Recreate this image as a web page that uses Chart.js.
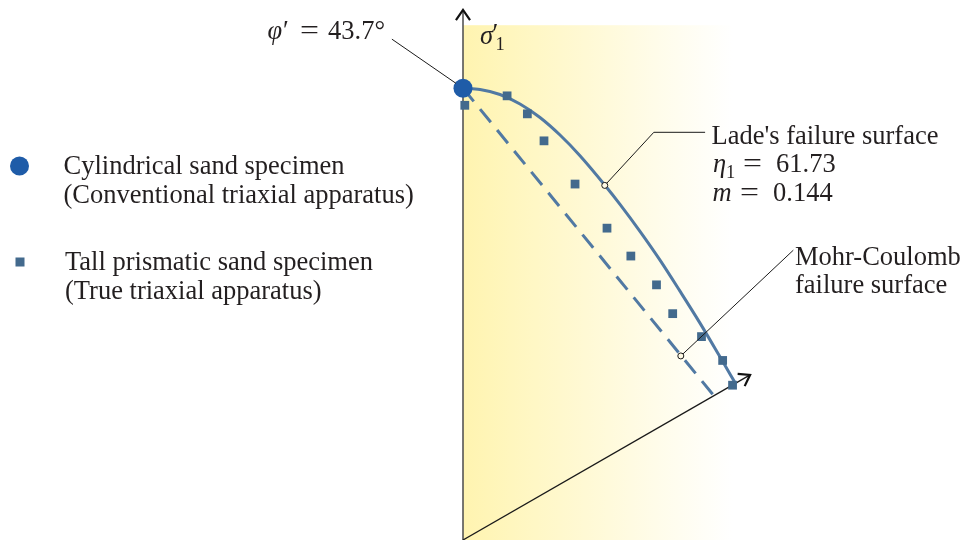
<!DOCTYPE html>
<html>
<head>
<meta charset="utf-8">
<script src="https://cdn.jsdelivr.net/npm/chart.js@4.4.1/dist/chart.umd.min.js"></script>
<style>
  html, body { margin: 0; padding: 0; background: #ffffff; }
  canvas { display: block; }
</style>
</head>
<body>
<canvas id="chart" width="965" height="540"></canvas>
<script>
// Octahedral-plane view: σ'1 axis vertical, origin where the two axes meet.
// Cylindrical specimen (conventional triaxial apparatus)
const cylindricalPoints = [{ x: 0, y: 10.04 }];

// Tall prismatic specimens (true triaxial apparatus)
const prismaticPoints = [
  { x: 0.04, y: 9.66 }, { x: 0.98, y: 9.87 }, { x: 1.43, y: 9.47 },
  { x: 1.80, y: 8.87 }, { x: 2.49, y: 7.91 }, { x: 3.20, y: 6.93 },
  { x: 3.73, y: 6.31 }, { x: 4.30, y: 5.67 }, { x: 4.66, y: 5.03 },
  { x: 5.30, y: 4.52 }, { x: 5.77, y: 3.99 }, { x: 5.99, y: 3.44 }
];

// Lade's failure surface trace (η1 = 61.73, m = 0.144)
const ladeSurface = [
  { x: 0.000, y: 10.04 }, { x: 0.378, y: 10.01 }, { x: 0.822, y: 9.90 },
  { x: 1.267, y: 9.69 }, { x: 1.711, y: 9.39 }, { x: 2.156, y: 9.00 },
  { x: 2.600, y: 8.54 }, { x: 3.149, y: 7.89 }, { x: 3.489, y: 7.46 },
  { x: 3.933, y: 6.86 }, { x: 4.378, y: 6.22 }, { x: 4.822, y: 5.53 },
  { x: 5.267, y: 4.82 }, { x: 5.711, y: 4.07 }, { x: 6.067, y: 3.46 }
];

// Mohr-Coulomb failure surface trace (φ' = 43.7°)
const mohrCoulombSurface = [{ x: 0, y: 10.04 }, { x: 5.58, y: 3.20 }];

// Points picked out by the annotations
const ladeCallout = [{ x: 3.15, y: 7.88 }];
const mohrCallout = [{ x: 4.84, y: 4.09 }];

// Axis ends (σ'1 vertical, σ'3 direction at 30°)
const sigma1AxisEnd = { x: 0, y: 11.78 };
const sigma3AxisEnd = { x: 6.38, y: 3.67 };
const axisOrigin = { x: 0, y: 0 };

// Shaded sector and leader-line bends
const shadeExtent = { x: 6.0, y: 11.44 };
const phiLeaderStart = { x: -1.58, y: 11.13 };
const ladeLeaderBend = [{ x: 4.24, y: 9.06 }, { x: 5.38, y: 9.06 }];
const mohrLeaderEnd = { x: 7.34, y: 6.44 };

const BIG_R = 9.5;
const SMALL_R = 3;
const SERIF = '"Liberation Serif", "Times New Roman", serif';
const TEXT = '#231f20';
const CURVE = '#5179a3';
const SQUARE = '#436a8d';
const CIRCLE = '#1f5ca8';

function px(chart, p) {
  return { x: chart.scales.x.getPixelForValue(p.x), y: chart.scales.y.getPixelForValue(p.y) };
}

function font(size, italic) {
  return (italic ? 'italic ' : '') + size + 'px ' + SERIF;
}

function drawText(ctx, str, x, y, size, italic) {
  ctx.font = font(size || 26.5, italic);
  ctx.fillText(str, x, y);
}

function drawEquals(ctx, x, y) {
  ctx.save();
  ctx.translate(x, y);
  ctx.scale(1.27, 1);
  ctx.font = font(26.5, false);
  ctx.fillText('=', 0, 0);
  ctx.restore();
}

function arrowHead(ctx, tip, from) {
  const ang = Math.atan2(from.y - tip.y, from.x - tip.x);
  const len = 12.5, spread = 0.6;
  ctx.beginPath();
  ctx.moveTo(tip.x + len * Math.cos(ang + spread), tip.y + len * Math.sin(ang + spread));
  ctx.lineTo(tip.x, tip.y);
  ctx.lineTo(tip.x + len * Math.cos(ang - spread), tip.y + len * Math.sin(ang - spread));
  ctx.stroke();
}

function shortened(from, to, r) {
  const dx = to.x - from.x, dy = to.y - from.y;
  const d = Math.hypot(dx, dy);
  return { x: to.x - dx / d * r, y: to.y - dy / d * r };
}

const diagramPlugin = {
  id: 'diagram',
  beforeDatasetsDraw(chart) {
    const ctx = chart.ctx;
    const o = px(chart, axisOrigin);
    const e = px(chart, shadeExtent);
    // shaded band behind the traces
    const g = ctx.createLinearGradient(o.x, 0, e.x, 0);
    g.addColorStop(0, '#fff4b0');
    g.addColorStop(0.45, '#fff9d4');
    g.addColorStop(0.8, '#fffdf0');
    g.addColorStop(1, '#ffffff');
    ctx.save();
    ctx.fillStyle = g;
    ctx.fillRect(o.x, e.y, e.x - o.x, o.y - e.y);

    // σ'1 axis
    const a1 = px(chart, sigma1AxisEnd);
    ctx.strokeStyle = '#555555';
    ctx.lineWidth = 1.6;
    ctx.beginPath();
    ctx.moveTo(o.x, o.y + 2);
    ctx.lineTo(a1.x, a1.y);
    ctx.stroke();
    // σ'3 direction
    const a3 = px(chart, sigma3AxisEnd);
    ctx.strokeStyle = '#1a1a1a';
    ctx.lineWidth = 1.3;
    ctx.beginPath();
    ctx.moveTo(o.x, o.y);
    ctx.lineTo(a3.x, a3.y);
    ctx.stroke();
    // arrow heads
    ctx.strokeStyle = '#111111';
    ctx.lineWidth = 2.2;
    ctx.lineJoin = 'miter';
    arrowHead(ctx, a1, o);
    arrowHead(ctx, a3, o);
    ctx.restore();
  },
  afterDatasetsDraw(chart) {
    const ctx = chart.ctx;
    ctx.save();
    ctx.strokeStyle = '#1a1a1a';
    ctx.lineWidth = 1;

    // φ' leader to the cylindrical specimen
    const ps = px(chart, phiLeaderStart);
    const pc = px(chart, cylindricalPoints[0]);
    const pe = shortened(ps, pc, BIG_R - 1);
    ctx.beginPath();
    ctx.moveTo(ps.x, ps.y);
    ctx.lineTo(pe.x, pe.y);
    ctx.stroke();

    // Lade leader
    const lb0 = px(chart, ladeLeaderBend[0]);
    const lb1 = px(chart, ladeLeaderBend[1]);
    const lp = px(chart, ladeCallout[0]);
    const lpe = shortened(lb0, lp, SMALL_R);
    ctx.beginPath();
    ctx.moveTo(lpe.x, lpe.y);
    ctx.lineTo(lb0.x, lb0.y);
    ctx.lineTo(lb1.x, lb1.y);
    ctx.stroke();

    // Mohr-Coulomb leader
    const me = px(chart, mohrLeaderEnd);
    const mp = px(chart, mohrCallout[0]);
    const mpe = shortened(me, mp, SMALL_R);
    ctx.beginPath();
    ctx.moveTo(mpe.x, mpe.y);
    ctx.lineTo(me.x, me.y);
    ctx.stroke();
    ctx.restore();
  },
  afterDraw(chart) {
    const ctx = chart.ctx;
    ctx.save();
    ctx.fillStyle = TEXT;
    ctx.textBaseline = 'alphabetic';
    ctx.textAlign = 'left';

    // σ'1 axis label
    drawText(ctx, 'σ', 480, 43.5, 26.5, true);
    drawText(ctx, '′', 492.5, 41.5, 26.5, false);
    drawText(ctx, '1', 495.5, 50, 18.5, false);

    // friction angle
    drawText(ctx, 'φ', 267.5, 38.5, 26.5, true);
    drawText(ctx, '′', 283, 38.5, 26.5, false);
    drawEquals(ctx, 300, 38.5);
    drawText(ctx, '43.7°', 328, 38.5, 26.5, false);

    // Lade annotation
    drawText(ctx, "Lade's failure surface", 711.5, 143.5, 26.5, false);
    drawText(ctx, 'η', 713, 172, 26.5, true);
    drawText(ctx, '1', 726, 177.5, 18.5, false);
    drawEquals(ctx, 743, 172);
    drawText(ctx, '61.73', 776, 172, 26.5, false);
    drawText(ctx, 'm', 712.5, 201, 26.5, true);
    drawEquals(ctx, 740, 201);
    drawText(ctx, '0.144', 773, 201, 26.5, false);

    // Mohr-Coulomb annotation
    drawText(ctx, 'Mohr-Coulomb', 795, 265, 26.5, false);
    drawText(ctx, 'failure surface', 795, 293, 26.5, false);

    // key
    ctx.fillStyle = CIRCLE;
    ctx.beginPath();
    ctx.arc(19.5, 166, BIG_R, 0, Math.PI * 2);
    ctx.fill();
    ctx.fillStyle = SQUARE;
    ctx.fillRect(15.5, 257.5, 9, 9);
    ctx.fillStyle = TEXT;
    drawText(ctx, 'Cylindrical sand specimen', 63.5, 174, 26.5, false);
    drawText(ctx, '(Conventional triaxial apparatus)', 63.5, 203, 26.5, false);
    drawText(ctx, 'Tall prismatic sand specimen', 65, 270, 26.5, false);
    drawText(ctx, '(True triaxial apparatus)', 65, 299, 26.5, false);
    ctx.restore();
  }
};

new Chart(document.getElementById('chart'), {
  type: 'scatter',
  data: {
    datasets: [
      {
        label: 'Callouts',
        data: ladeCallout.concat(mohrCallout),
        pointStyle: 'circle',
        pointRadius: SMALL_R,
        backgroundColor: '#fffbe6',
        borderColor: '#1a1a1a',
        borderWidth: 1,
        order: -1
      },
      {
        label: 'Cylindrical sand specimen',
        data: cylindricalPoints,
        pointStyle: 'circle',
        pointRadius: BIG_R,
        backgroundColor: CIRCLE,
        borderWidth: 0,
        order: 0
      },
      {
        label: 'Tall prismatic sand specimen',
        data: prismaticPoints,
        pointStyle: 'rect',
        pointRadius: 6.2,
        backgroundColor: SQUARE,
        borderWidth: 0,
        order: 1
      },
      {
        label: "Lade's failure surface",
        type: 'line',
        data: ladeSurface,
        borderColor: CURVE,
        borderWidth: 3,
        pointRadius: 0,
        fill: false,
        cubicInterpolationMode: 'monotone',
        order: 3
      },
      {
        label: 'Mohr-Coulomb failure surface',
        type: 'line',
        data: mohrCoulombSurface,
        borderColor: CURVE,
        borderWidth: 3,
        borderDash: [17, 10],
        pointRadius: 0,
        fill: false,
        order: 3
      }
    ]
  },
  options: {
    responsive: false,
    animation: false,
    devicePixelRatio: 1,
    events: [],
    layout: { padding: 0, autoPadding: false },
    plugins: { legend: { display: false }, tooltip: { enabled: false } },
    scales: {
      x: { type: 'linear', min: -463 / 45, max: 502 / 45, display: false },
      y: { type: 'linear', min: 0, max: 12, display: false }
    }
  },
  plugins: [diagramPlugin]
});
</script>
</body>
</html>
